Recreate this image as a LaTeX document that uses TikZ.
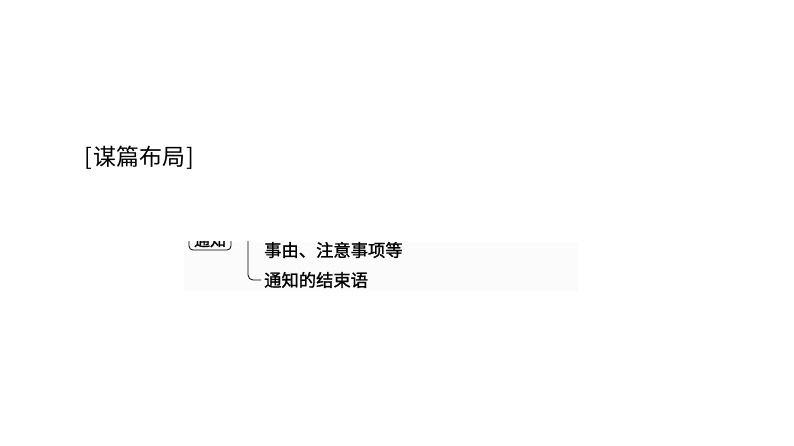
\documentclass[tikz,border=0pt]{standalone}
\usepackage{fontspec}
\newfontfamily\cjk{Noto Sans CJK SC}
\newfontfamily\cjkb{Noto Sans CJK SC}[FakeBold=1.2]
\begin{document}
\begin{tikzpicture}[x=1pt,y=-1pt,
  titletext/.style={font=\cjk\fontsize{23}{26}\selectfont,inner sep=0pt,anchor=west},
  itemtext/.style={font=\cjkb\fontsize{17.3}{20}\selectfont,inner sep=0pt,anchor=west},
  headbox/.style={draw,line width=0.8pt,rounded corners=4pt,minimum width=42pt,minimum height=20pt,inner sep=0pt,font=\cjkb\fontsize{16}{18}\selectfont},
  bracketline/.style={draw,line width=0.8pt}]
\useasboundingbox (0,0) rectangle (794,446);
\fill[white] (0,0) rectangle (794,446);
\node[titletext] (title) at (84,158) {[\hspace{1.5pt}谋篇布局\hspace{1.5pt}]};
\fill[color={rgb,255:red,251;green,251;blue,251}] (184,242) rectangle (578,291);
\begin{scope}
  \clip (180,241) rectangle (240,262);
  \node[headbox] (head) at (210,240) {通知};
\end{scope}
\node[itemtext] (item1) at (264,250) {事由、注意事项等};
\node[itemtext] (item2) at (264,280) {通知的结束语};
\coordinate (btop) at (248,241);
\draw[bracketline] (btop) -- (248,275) arc[start angle=180,end angle=90,radius=5] -- ([xshift=-3pt]item2.west);
\end{tikzpicture}
\end{document}
